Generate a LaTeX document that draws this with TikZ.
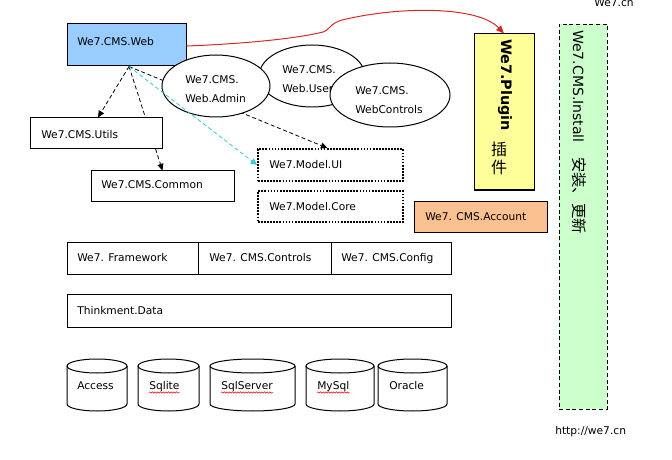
\documentclass[tikz,border=0pt]{standalone}
\usepackage{fontspec}
\setmainfont{DejaVu Sans}
\newfontfamily\cjk{Noto Sans CJK SC}
\usetikzlibrary{arrows.meta,calc,decorations.pathmorphing,shapes.geometric}
\pgfdeclarelayer{bg}
\pgfsetlayers{bg,main}
\definecolor{webblue}{RGB}{153,204,255}
\definecolor{plugyellow}{RGB}{255,255,153}
\definecolor{accorange}{RGB}{250,192,143}
\definecolor{instgreen}{RGB}{204,255,204}
\definecolor{cyanline}{RGB}{51,204,204}
\definecolor{redline}{RGB}{215,40,40}
\newcommand\dbcyl[2]{%
  \draw[line width=0.75pt] (#1,366) -- (#1,404) arc[start angle=180, end angle=0, x radius={(#2-#1)/2}, y radius=7] -- (#2,366);
  \draw[line width=0.75pt] ({(#1+#2)/2},366) ellipse[x radius={(#2-#1)/2}, y radius=7];
}
\begin{document}
\begin{tikzpicture}[x=0.75pt,y=-0.75pt,
  box/.style={draw, line width=0.75pt, rectangle, inner sep=0pt},
  dotbox/.style={draw, line width=1.3pt, dash pattern=on 1.3pt off 1pt, rectangle, inner sep=0pt},
  ell/.style={draw, ellipse, fill=white, line width=0.75pt, inner sep=0pt},
  txt/.style={font=\fontsize{8pt}{10pt}\selectfont, inner sep=0pt, text height=5.8pt, text depth=0pt, anchor=west},
  dep/.style={draw, line width=0.6pt, dash pattern=on 3pt off 2pt, -{Triangle[length=5pt,width=4.5pt]}},
  squig/.style={draw=red, line width=0.4pt, decorate, decoration={snake, amplitude=0.5pt, segment length=2pt}},
]
\useasboundingbox (0,0) rectangle (672,460);

% top left boxes
\node[box, fill=webblue, minimum width=89.25pt, minimum height=31.5pt] (web) at (126.5,45) {};
\node[txt] (webT) at (77,42) {We7.CMS.Web};
\node[box, fill=white, minimum width=99pt, minimum height=23.25pt] (utils) at (96,133.5) {};
\node[txt] (utilsT) at (41,135) {We7.CMS.Utils};
\node[box, fill=white, minimum width=107.25pt, minimum height=22.5pt] (common) at (162.5,186) {};
\node[txt] (commonT) at (101,185) {We7.CMS.Common};
\node[dotbox, minimum width=108.75pt, minimum height=24pt] (mui) at (330.5,165) {};
\node[txt] (muiT) at (269,165) {We7.Model.UI};
\node[dotbox, minimum width=108.75pt, minimum height=23.25pt] (mcore) at (330.5,206.5) {};
\node[txt] (mcoreT) at (269,207) {We7.Model.Core};
\node[box, fill=accorange, minimum width=99.75pt, minimum height=23.25pt] (account) at (480.5,216.5) {};
\node[txt] (accountT) at (425,217) {We7. CMS.Account};

% ellipses
\node[ell, minimum width=79.5pt, minimum height=46.5pt] (user) at (312,76) {};
\node[txt] (userT1) at (282,70) {We7.CMS.};
\node[txt] (userT2) at (282,89) {Web.User};
\node[ell, minimum width=81pt, minimum height=46.5pt] (admin) at (216,86) {};
\node[txt] (adminT1) at (185,80) {We7.CMS.};
\node[txt] (adminT2) at (185,99) {Web.Admin};
\node[ell, minimum width=90pt, minimum height=48pt] (ctrls) at (390,95) {};
\node[txt] (ctrlsT1) at (355,91) {We7.CMS.};
\node[txt] (ctrlsT2) at (355,110) {WebControls};

% plugin and install
\node[box, fill=plugyellow, minimum width=45pt, minimum height=117pt] (plugin) at (504,112) {};
\node[font=\bfseries\fontsize{10.8pt}{12pt}\selectfont, rotate=-90, anchor=base west, inner sep=0pt] (plugT) at (501,39) {We7.Plugin};
\node[font={\cjk\fontsize{12pt}{13.5pt}\selectfont}, align=center, anchor=north, inner sep=0pt] (plugC) at (499,142) {插\\件};
\node[draw, line width=0.6pt, dash pattern=on 3pt off 2pt, fill=instgreen, minimum width=36pt, minimum height=288.75pt, inner sep=0pt] (install) at (583,216.5) {};
\node[font=\fontsize{10.5pt}{12pt}\selectfont, rotate=-90, anchor=base west, inner sep=0pt] (instT) at (573,30) {We7.CMS.Install\hspace{11pt}{\cjk\fontsize{11.5pt}{12pt}\selectfont 安装、更新}};

% framework rows
\node[box, minimum width=98.25pt, minimum height=24pt] (fw) at (132.5,258) {};
\node[box, minimum width=99.75pt, minimum height=24pt] (ctl) at (264.5,258) {};
\node[box, minimum width=90pt, minimum height=24pt] (cfg) at (391,258) {};
\node[txt] (fwT) at (77,258) {We7. Framework};
\node[txt] (ctlT) at (209,258) {We7. CMS.Controls};
\node[txt] (cfgT) at (341,258) {We7. CMS.Config};
\node[box, minimum width=288pt, minimum height=24.75pt] (data) at (259,310.5) {};
\node[txt] (dataT) at (77,310.5) {Thinkment.Data};

% databases
\dbcyl{67}{127}
\dbcyl{138}{199}
\dbcyl{210}{295}
\dbcyl{306}{374}
\dbcyl{378}{447}
\node[txt] (accT) at (77,386) {Access};
\node[txt] (sqT) at (149,386) {Sqlite};
\node[txt] (ssT) at (221,386) {SqlServer};
\node[txt] (myT) at (317,386) {MySql};
\node[txt] (orT) at (389,386) {Oracle};
\draw[squig] ([yshift=-2pt]sqT.base west) -- ([yshift=-2pt]sqT.base east);
\draw[squig] ([yshift=-2pt]ssT.base west) -- ([yshift=-2pt]ssT.base east);
\draw[squig] ([yshift=-2pt]myT.base west) -- ([yshift=-2pt]myT.base east);

% captions
\node[font=\fontsize{8pt}{10pt}\selectfont, anchor=base, inner sep=0pt] (we7cn) at (614,7) {We7.cn};
\node[txt] (url) at (555,431) {http://we7.cn};

% connectors
\coordinate (ws) at ($(web.south)+(2.5,0)$);
\begin{pgfonlayer}{bg}
\draw[dep] (ws) -- ($(utils.north)+(2,0)$);
\draw[dep] (ws) -- (common.north);
\draw[dep] (ws) -- ($(mui.north)+(-3,0)$);
\end{pgfonlayer}
\draw[dep, cyanline] (ws) -- (mui.west);
\draw[redline, line width=0.75pt, -{Triangle[length=6pt,width=5pt]}] ([yshift=-0.75pt]web.east) .. controls (240,44) and (295,39) .. (323,32) .. controls (331,29) and (329,24) .. (342,20) .. controls (400,6) and (478,6) .. (plugin.north);
\end{tikzpicture}
\end{document}
